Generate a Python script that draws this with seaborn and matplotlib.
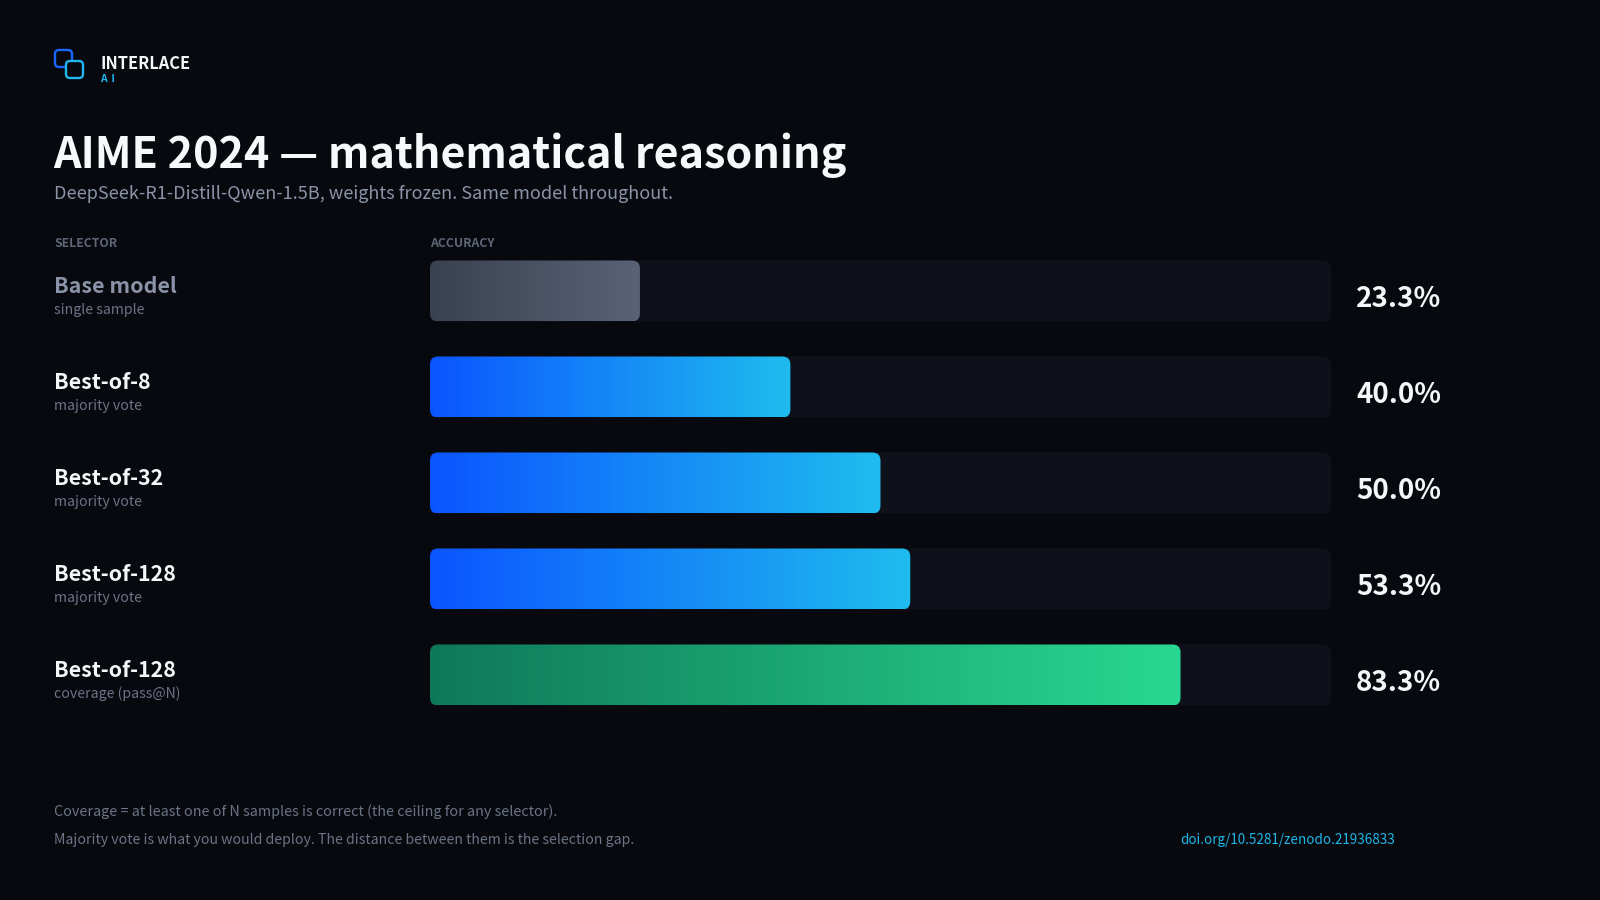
import numpy as np
import pandas as pd
import matplotlib
matplotlib.use("Agg")
import matplotlib.pyplot as plt
import matplotlib.transforms as mtransforms
from matplotlib.patches import FancyBboxPatch
from matplotlib.colors import LinearSegmentedColormap
import seaborn as sns

# Datos del grafico
selectores = ["Base model", "Best-of-8", "Best-of-32", "Best-of-128", "Best-of-128"]
subtitulos = ["single sample", "majority vote", "majority vote", "majority vote", "coverage (pass@N)"]
precision = [23.3, 40.0, 50.0, 53.3, 83.3]
grupos = ["base", "vote", "vote", "vote", "coverage"]
escala_max = 100

# Colores
FONDO = "#07090e"
PISTA = "#0e1119"
gradientes = {
    "base": ("#3a4151", "#596276"),
    "vote": ("#0b55ff", "#1fbcee"),
    "coverage": ("#0f7858", "#29d892"),
}
color_nombre = {"base": "#8a93a7", "vote": "#f4f6fa", "coverage": "#f4f6fa"}

df = pd.DataFrame({
    "fila": [f"{s} | {t}" for s, t in zip(selectores, subtitulos)],
    "precision": precision,
})

sns.set_theme(style="dark")
plt.rcParams["font.family"] = ["Noto Sans CJK SC", "DejaVu Sans"]

W, H = 1600, 900
fig = plt.figure(figsize=(16, 9), dpi=100, facecolor=FONDO)

# capa de decoracion en pixeles
deco = fig.add_axes([0, 0, 1, 1], zorder=0)
deco.set_xlim(0, W)
deco.set_ylim(H, 0)
deco.set_axis_off()

ax = fig.add_axes([430 / W, 1 - 723 / H, 901 / W, 480 / H], zorder=1)
sns.barplot(data=df, x="precision", y="fila", orient="h", width=61 / 96, color="white", ax=ax)
ax.set_xlim(0, escala_max)
ax.set_ylim(len(df) - 0.5, -0.5)
ax.set_axis_off()

# relacion pixeles / unidades para esquinas redondeadas
p0 = ax.transData.transform((0, 0))
p1 = ax.transData.transform((1, 1))
px_x = abs(p1[0] - p0[0])
px_y = abs(p1[1] - p0[1])
radio = 8 / px_x
aspecto = px_x / px_y
estilo = f"round,pad=0,rounding_size={radio}"

fila_tr = mtransforms.blended_transform_factory(fig.transFigure, ax.transData)

barras = list(ax.containers[0])
for barra, valor, grupo, nombre, sub in zip(barras, precision, grupos, selectores, subtitulos):
    x, y = barra.get_x(), barra.get_y()
    w, h = barra.get_width(), barra.get_height()
    barra.set_visible(False)

    pista = FancyBboxPatch((0, y), escala_max, h, boxstyle=estilo, mutation_aspect=aspecto,
                           fc=PISTA, ec="none", zorder=1)
    ax.add_patch(pista)

    forma = FancyBboxPatch((x, y), w, h, boxstyle=estilo, mutation_aspect=aspecto,
                           fc="none", ec="none", zorder=2)
    ax.add_patch(forma)
    cmap = LinearSegmentedColormap.from_list(grupo, gradientes[grupo])
    img = ax.imshow(np.linspace(0, 1, 256).reshape(1, -1), cmap=cmap, aspect="auto",
                    extent=(x, x + w, y + h, y), interpolation="bicubic", zorder=3)
    img.set_clip_path(forma)

    centro = y + h / 2
    ax.annotate(f"{valor:.1f}%", xy=(1, centro), xycoords=("axes fraction", "data"),
                xytext=(18, -11.2), textcoords="offset points", va="baseline", ha="left",
                fontsize=20, fontweight="bold", color="#f4f6fa")
    ax.annotate(nombre, xy=(54 / W, centro), xycoords=fila_tr, xytext=(0, -1.1),
                textcoords="offset points", va="baseline", ha="left",
                fontsize=15.4, fontweight="bold", color=color_nombre[grupo])
    ax.annotate(sub, xy=(54 / W, centro), xycoords=fila_tr, xytext=(0, -16.5),
                textcoords="offset points", va="baseline", ha="left",
                fontsize=10.2, color="#6b7386")

ax.set_xlim(0, escala_max)
ax.set_ylim(len(df) - 0.5, -0.5)

# Logo
deco.add_patch(FancyBboxPatch((55, 50), 17, 17, boxstyle="round,pad=0,rounding_size=4",
                              fc="none", ec="#1a66ff", lw=1.7))
deco.add_patch(FancyBboxPatch((66, 61), 17, 17, boxstyle="round,pad=0,rounding_size=4",
                              fc=FONDO, ec="#22b6f0", lw=1.7))
deco.text(100, 69, "INTERLACE", fontsize=11.8, fontweight="bold", color="#f4f6fa", va="baseline")
deco.text(100, 82, "A  I", fontsize=7.5, fontweight="bold", color="#22b6f0", va="baseline")

# Titulos
deco.text(53, 168, "AIME 2024 — mathematical reasoning", fontsize=31, fontweight="bold",
          color="#f6f8fb", va="baseline")
deco.text(54, 199, "DeepSeek-R1-Distill-Qwen-1.5B, weights frozen. Same model throughout.",
          fontsize=13, color="#8b93a7", va="baseline")
deco.text(54, 247, "SELECTOR", fontsize=8.8, fontweight="bold", color="#5e6678", va="baseline")
deco.text(430, 247, "ACCURACY", fontsize=8.8, fontweight="bold", color="#5e6678", va="baseline")

# Pie
deco.text(54, 816, "Coverage = at least one of N samples is correct (the ceiling for any selector).",
          fontsize=10.3, color="#6b7385", va="baseline")
deco.text(54, 844, "Majority vote is what you would deploy. The distance between them is the selection gap.",
          fontsize=10.2, color="#6b7385", va="baseline")
deco.text(1180, 844, "doi.org/10.5281/zenodo.21936833", fontsize=9.7, color="#1fb6e8", va="baseline")

fig.savefig("out.png", dpi=100, facecolor=FONDO)
